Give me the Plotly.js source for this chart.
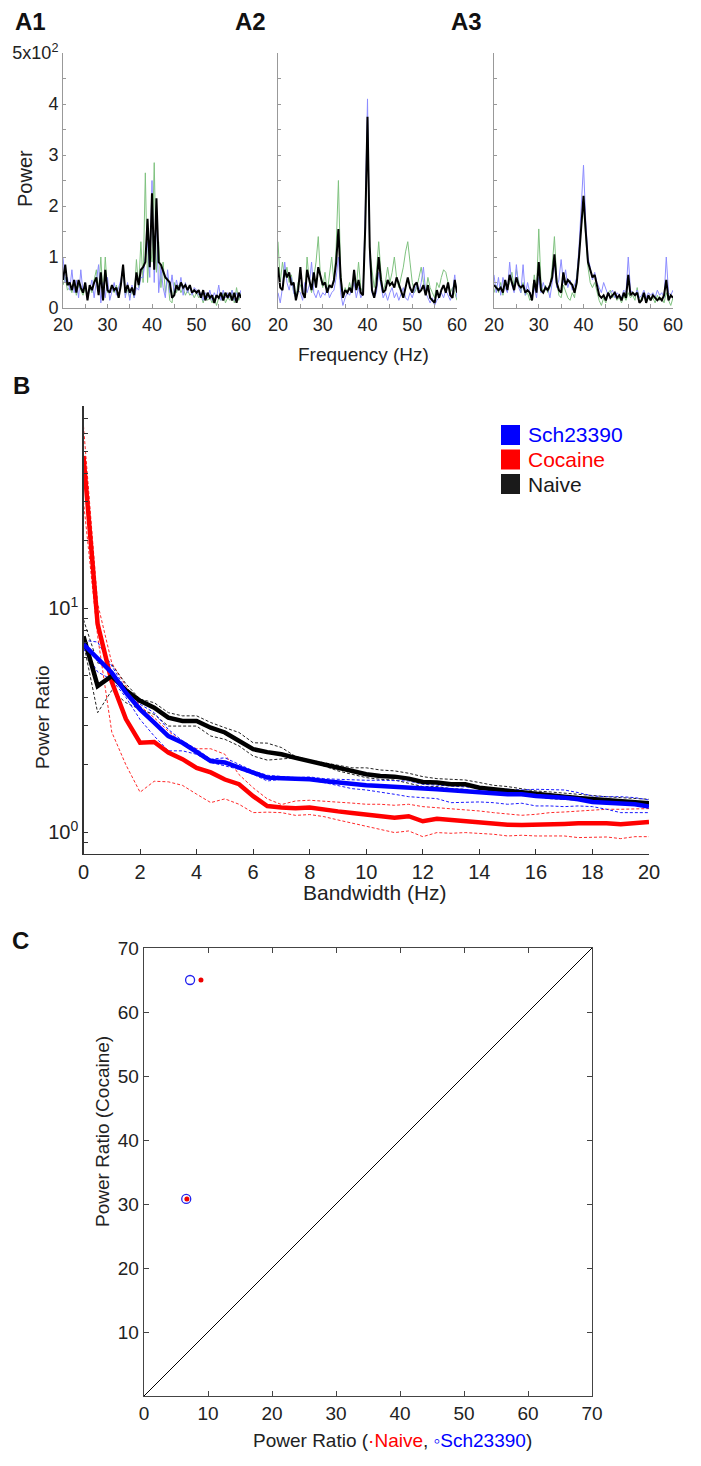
<!DOCTYPE html>
<html>
<head>
<meta charset="utf-8">
<script src="https://cdn.plot.ly/plotly-3.0.1.min.js"></script>
<style>html,body{margin:0;padding:0;background:#fff;}#chart{width:701px;height:1466px;}</style>
</head>
<body>
<div id="chart"></div>
<script>
// ---------- Panel A: power spectra (units of 100) ----------
var freqA = [20,20.5,21,21.5,22,22.5,23,23.5,24,24.5,25,25.5,26,26.5,27,27.5,28,28.5,29,29.5,30,30.5,31,31.5,32,32.5,33,33.5,34,34.5,35,35.5,36,36.5,37,37.5,38,38.5,39,39.5,40,40.5,41,41.5,42,42.5,43,43.5,44,44.5,45,45.5,46,46.5,47,47.5,48,48.5,49,49.5,50,50.5,51,51.5,52,52.5,53,53.5,54,54.5,55,55.5,56,56.5,57,57.5,58,58.5,59,59.5,60];

var a1Black = [0.55,0.85,0.45,0.5,0.35,0.55,0.3,0.55,0.4,0.3,0.5,0.15,0.45,0.35,0.5,0.6,0.25,0.7,0.15,0.75,0.35,0.3,0.45,0.35,0.4,0.2,0.45,0.85,0.3,0.45,0.3,0.4,0.25,0.7,0.45,0.75,0.8,0.9,1.75,0.8,2.25,0.75,2.15,0.9,0.85,0.7,0.6,0.55,0.5,0.2,0.25,0.45,0.35,0.5,0.4,0.45,0.35,0.45,0.3,0.35,0.3,0.35,0.2,0.35,0.15,0.3,0.2,0.25,0.1,0.25,0.2,0.3,0.15,0.3,0.2,0.3,0.15,0.3,0.1,0.3,0.2];
var a1Green = [0.45,0.6,0.35,0.4,0.3,0.5,0.25,0.45,0.35,0.25,0.4,0.2,0.4,0.3,0.55,0.75,0.3,1.0,0.2,1.0,0.3,0.35,0.4,0.3,0.45,0.2,0.5,0.8,0.25,0.35,0.2,0.35,0.2,0.95,0.4,1.3,0.5,2.65,0.5,1.3,0.9,2.85,0.7,1.3,0.4,0.9,0.3,0.6,0.15,0.1,0.5,0.3,0.45,0.3,0.4,0.25,0.35,0.25,0.3,0.2,0.3,0.2,0.25,0.1,0.25,0.15,0.2,0.1,0.2,0.05,0.2,0.15,0.3,0.1,0.2,0.15,0.35,0.1,0.4,0.15,0.3];
var a1Blue = [1.0,0.5,0.6,0.35,0.75,0.3,0.55,0.2,0.75,0.3,0.5,0.2,0.35,0.55,0.2,0.5,0.85,0.1,0.5,0.2,0.6,0.15,0.35,0.5,0.25,0.4,0.55,0.8,0.2,0.5,0.15,0.45,0.2,0.4,0.35,0.6,0.6,1.0,1.3,0.6,2.5,0.5,1.9,0.3,0.8,0.4,0.2,0.75,0.3,0.65,0.3,0.55,0.35,0.6,0.25,0.5,0.3,0.45,0.25,0.4,0.35,0.25,0.3,0.15,0.3,0.2,0.35,0.15,0.3,0.2,0.45,0.15,0.35,0.2,0.3,0.2,0.35,0.15,0.3,0.2,0.35];

var a2Black = [0.8,0.4,0.35,0.75,0.6,0.7,0.45,0.5,0.15,0.35,0.8,0.3,0.2,0.75,0.55,0.35,0.7,0.4,0.8,0.6,0.45,0.5,0.3,0.45,0.4,0.55,0.9,1.55,0.6,0.2,0.35,0.3,0.4,0.3,0.75,0.35,0.55,0.3,0.25,1.6,3.75,1.2,0.35,0.2,0.45,1.0,0.55,0.3,0.35,0.55,0.45,0.5,0.4,0.6,0.45,0.35,0.2,0.4,0.6,0.4,0.3,0.45,0.5,0.3,0.35,0.45,0.25,0.45,0.2,0.15,0.1,0.35,0.2,0.35,0.45,0.3,0.5,0.25,0.2,0.55,0.3];
var a2Green = [1.3,0.5,0.9,0.6,0.8,0.5,0.65,0.3,0.2,0.5,0.45,0.3,0.2,1.0,0.5,0.3,0.6,0.9,1.4,0.6,0.4,0.7,0.3,0.6,1.0,0.5,1.2,2.5,0.7,0.2,0.4,0.3,0.5,0.3,0.6,0.4,0.9,0.4,0.3,1.5,3.7,1.1,0.8,0.4,0.7,1.3,0.7,0.3,0.5,0.8,0.5,0.7,1.0,0.6,0.4,0.6,0.8,1.1,1.3,0.9,0.5,0.3,0.4,0.6,0.8,0.5,0.3,0.6,0.4,0.3,0.2,0.5,0.4,0.6,0.75,0.7,0.5,0.3,0.4,0.3,0.15];
var a2Blue = [0.3,0.1,0.4,0.9,0.5,0.35,0.6,0.3,0.2,0.35,0.3,0.15,0.5,0.3,0.45,0.9,0.3,0.2,0.35,0.2,0.3,0.25,0.4,0.2,0.3,0.35,0.6,1.0,0.3,0.05,0.2,0.3,0.25,0.4,0.5,0.2,0.4,0.2,0.3,1.9,4.1,1.0,0.3,0.2,0.3,0.7,0.4,0.2,0.3,0.15,0.3,0.4,0.2,0.3,0.15,0.3,0.4,0.2,0.15,0.3,0.2,0.35,0.45,0.3,0.5,0.8,0.3,0.2,0.1,0.2,0.05,0.15,0.2,0.3,0.2,0.35,0.25,0.15,0.3,0.65,0.2];

var a3Black = [0.45,0.4,0.35,0.4,0.3,0.55,0.35,0.65,0.5,0.35,0.6,0.45,0.4,0.45,0.3,0.35,0.3,0.15,0.55,0.3,0.9,0.35,0.3,0.4,0.35,0.45,0.6,1.05,0.5,0.35,0.3,0.7,0.45,0.55,0.5,0.45,0.3,0.5,1.0,1.7,2.2,1.5,0.9,0.75,0.6,0.65,0.45,0.25,0.2,0.25,0.15,0.3,0.2,0.25,0.3,0.2,0.25,0.15,0.3,0.2,0.65,0.25,0.3,0.25,0.3,0.1,0.15,0.3,0.1,0.25,0.15,0.25,0.2,0.15,0.2,0.15,0.25,0.55,0.15,0.25,0.2];
var a3Green = [0.3,0.45,0.3,0.5,0.25,0.55,0.4,0.5,0.7,0.4,0.75,0.5,0.3,0.5,0.25,0.3,0.15,0.2,0.65,0.3,1.55,0.5,0.3,0.45,0.3,0.4,0.8,1.4,0.6,0.25,0.2,0.45,0.3,0.2,0.15,0.3,0.2,0.6,1.1,1.6,2.0,1.4,0.8,0.5,0.4,0.5,0.3,0.15,0.05,0.2,0.1,0.3,0.35,0.2,0.25,0.15,0.2,0.1,0.25,0.15,0.3,0.2,0.25,0.15,0.4,0.1,0.2,0.3,0.1,0.2,0.15,0.2,0.1,0.25,0.15,0.2,0.1,0.3,0.15,0.05,0.2];
var a3Blue = [0.65,0.3,0.6,0.25,0.6,0.4,0.3,0.9,0.45,0.3,0.85,0.4,0.3,0.85,0.25,0.5,0.3,0.2,0.4,0.2,0.6,0.3,0.5,0.35,0.4,0.2,0.5,0.9,0.4,0.55,0.95,0.5,0.75,0.4,0.55,0.35,0.45,0.6,1.2,2.0,2.8,1.7,1.0,0.8,0.55,0.7,0.5,0.4,0.3,0.5,0.35,0.25,0.3,0.35,0.2,0.3,0.25,0.2,0.35,0.3,1.0,0.35,0.3,0.25,0.35,0.2,0.25,0.35,0.2,0.3,0.25,0.3,0.2,0.35,0.25,0.3,0.2,1.0,0.3,0.25,0.35];

var aYTickVals = [0,0.5,1,1.5,2,2.5,3,3.5,4,4.5,5];
var aYTickText = ['0','','1','','2','','3','','4','','5x10<sup>2</sup>'];
var aXTickVals = [20,25,30,35,40,45,50,55,60];
var aXTickText = ['20','','30','','40','','50','','60'];

// ---------- Panel B: power ratio vs bandwidth ----------
var bandwidth = [0,0.5,1,1.5,2,2.5,3,3.5,4,4.5,5,5.5,6,6.5,7,7.5,8,8.5,9,9.5,10,10.5,11,11.5,12,12.5,13,13.5,14,14.5,15,15.5,16,16.5,17,17.5,18,18.5,19,19.5,20];

var cocMean = [47.9,8.5,4.7,3.2,2.51,2.53,2.27,2.12,1.94,1.85,1.72,1.64,1.45,1.31,1.29,1.28,1.29,1.26,1.24,1.22,1.20,1.18,1.16,1.18,1.12,1.15,1.135,1.123,1.112,1.097,1.082,1.078,1.078,1.086,1.09,1.097,1.10,1.097,1.086,1.10,1.112];
var cocUp = [65,10.5,5.7,4.5,3.66,3.25,2.83,2.51,2.36,2.36,2.23,1.81,1.58,1.41,1.33,1.38,1.39,1.38,1.36,1.35,1.334,1.334,1.32,1.334,1.302,1.289,1.276,1.267,1.245,1.224,1.203,1.191,1.203,1.224,1.232,1.245,1.255,1.267,1.267,1.276,1.276];
var cocLo = [30,7.5,2.8,2.0,1.51,1.69,1.68,1.62,1.48,1.357,1.41,1.334,1.224,1.23,1.224,1.19,1.20,1.175,1.135,1.097,1.067,1.031,0.997,1.014,0.956,0.997,0.99,0.997,0.99,0.98,0.963,0.97,0.963,0.963,0.963,0.947,0.947,0.953,0.937,0.956,0.956];

var naiMean = [7.5,4.5,4.99,4.3,3.86,3.60,3.25,3.14,3.14,2.93,2.79,2.56,2.35,2.28,2.23,2.15,2.08,2.01,1.94,1.88,1.815,1.784,1.772,1.736,1.678,1.668,1.638,1.638,1.582,1.556,1.529,1.504,1.478,1.452,1.442,1.422,1.404,1.394,1.38,1.366,1.348];
var naiUp = [8.9,5.7,5.6,4.6,3.93,3.79,3.42,3.31,3.31,3.09,2.93,2.79,2.51,2.50,2.39,2.18,2.10,2.05,1.99,1.94,1.94,1.897,1.88,1.835,1.772,1.736,1.724,1.712,1.668,1.621,1.60,1.566,1.529,1.514,1.493,1.474,1.452,1.442,1.428,1.413,1.404];
var naiLo = [7.0,3.42,4.3,3.79,3.54,3.36,2.98,2.98,2.98,2.69,2.60,2.43,2.19,2.10,2.12,2.15,2.08,1.98,1.88,1.815,1.754,1.724,1.712,1.655,1.60,1.60,1.566,1.556,1.504,1.493,1.478,1.463,1.442,1.413,1.404,1.394,1.38,1.356,1.348,1.334,1.32];

var schMean = [6.9,6.0,5.16,4.2,3.54,3.09,2.69,2.51,2.27,2.08,2.05,1.94,1.847,1.754,1.743,1.736,1.724,1.695,1.668,1.638,1.621,1.61,1.60,1.582,1.566,1.556,1.54,1.529,1.504,1.493,1.478,1.478,1.452,1.442,1.428,1.404,1.366,1.356,1.348,1.334,1.302];
var schUp = [7.2,7.07,5.53,4.35,3.73,3.42,2.88,2.56,2.35,2.12,2.15,2.01,1.88,1.797,1.772,1.754,1.766,1.736,1.724,1.712,1.707,1.707,1.695,1.695,1.638,1.621,1.61,1.60,1.582,1.566,1.556,1.545,1.556,1.556,1.545,1.504,1.452,1.442,1.442,1.428,1.394];
var schLo = [6.6,5.2,4.8,4.0,3.19,2.69,2.31,2.31,2.23,2.05,1.98,1.91,1.815,1.695,1.724,1.724,1.712,1.668,1.621,1.566,1.545,1.514,1.478,1.442,1.428,1.413,1.356,1.366,1.366,1.356,1.334,1.348,1.311,1.311,1.302,1.311,1.302,1.267,1.224,1.224,1.224];

var bYTickVals = [0.9,1,2,3,4,5,6,7,8,9,10,20,30,40,50,60,70,80];
var bYTickText = ['','10<sup>0</sup>','','','','','','','','','10<sup>1</sup>','','','','','','',''];
var bXTickVals = [0,2,4,6,8,10,12,14,16,18,20];

var legendNames = ['Sch23390','Cocaine','Naive'];
var legendColors = ['#0000ff','#ff0000','#1a1a1a'];

// ---------- Panel C: scatter ----------
var naiveX = [8.9, 6.7];
var schX = [7.2, 6.6];
var cocaineY = [65, 30.8];
var unityLine = [0, 70];

// ---------- helpers ----------
var W = 701, H = 1466;
function px(x){ return x / W; }
function py(y){ return 1 - y / H; }
var ARIAL = "'Liberation Sans', Arial, sans-serif";
var NARROW = "'Liberation Sans Narrow', 'Arial Narrow', 'Liberation Sans', Arial, sans-serif";

var traces = [];
function aTraces(xa, ya, g, b, k) {
  traces.push({x: freqA, y: g, xaxis: xa, yaxis: ya, mode: 'lines', line: {color: '#7fc27f', width: 1}, hoverinfo: 'skip', showlegend: false});
  traces.push({x: freqA, y: b, xaxis: xa, yaxis: ya, mode: 'lines', line: {color: '#8c8cff', width: 1}, hoverinfo: 'skip', showlegend: false});
  traces.push({x: freqA, y: k, xaxis: xa, yaxis: ya, mode: 'lines', line: {color: '#000000', width: 2}, hoverinfo: 'skip', showlegend: false});
}
aTraces('x', 'y', a1Green, a1Blue, a1Black);
aTraces('x2', 'y2', a2Green, a2Blue, a2Black);
aTraces('x3', 'y3', a3Green, a3Blue, a3Black);

function bLine(yv, color, width, dash, name) {
  traces.push({x: bandwidth, y: yv, xaxis: 'x4', yaxis: 'y4', mode: 'lines', name: name,
    line: {color: color, width: width, dash: dash}, showlegend: false});
}
bLine(cocUp, '#ff2a2a', 1, '3px,2px', 'Cocaine +');
bLine(cocLo, '#ff2a2a', 1, '3px,2px', 'Cocaine -');
bLine(naiUp, '#222222', 1, '3px,2px', 'Naive +');
bLine(naiLo, '#222222', 1, '3px,2px', 'Naive -');
bLine(schUp, '#1a1aff', 1, '3px,2px', 'Sch23390 +');
bLine(schLo, '#1a1aff', 1, '3px,2px', 'Sch23390 -');
bLine(cocMean, '#ff0000', 4.5, 'solid', 'Cocaine');
bLine(naiMean, '#000000', 4.5, 'solid', 'Naive');
bLine(schMean, '#0000ff', 4.5, 'solid', 'Sch23390');

traces.push({x: unityLine, y: unityLine, xaxis: 'x5', yaxis: 'y5', mode: 'lines', line: {color: '#000', width: 1}, showlegend: false, hoverinfo: 'skip'});
traces.push({x: schX, y: cocaineY, xaxis: 'x5', yaxis: 'y5', mode: 'markers', name: 'Sch23390',
  marker: {symbol: 'circle-open', size: 9, color: '#2222ee', line: {width: 1.3, color: '#2222ee'}}, showlegend: false});
traces.push({x: naiveX, y: cocaineY, xaxis: 'x5', yaxis: 'y5', mode: 'markers', name: 'Naive',
  marker: {symbol: 'circle', size: 5, color: '#ee0000'}, showlegend: false});

function aX(domain, anchor) {
  return {domain: domain, anchor: anchor, range: [20, 60], tickmode: 'array', tickvals: aXTickVals, ticktext: aXTickText,
    ticks: 'inside', ticklen: 4, tickcolor: '#999', showline: true, linecolor: '#999', linewidth: 1,
    showgrid: false, zeroline: false, tickfont: {family: ARIAL, size: 18, color: '#222'}, fixedrange: true};
}
function aY(domain, anchor, labels) {
  return {domain: domain, anchor: anchor, range: [0, 5], tickmode: 'array', tickvals: aYTickVals, ticktext: aYTickText,
    showticklabels: labels, ticks: 'inside', ticklen: 3, tickcolor: '#999', showline: true, linecolor: '#999', linewidth: 1,
    showgrid: false, zeroline: false, tickfont: {family: ARIAL, size: 18, color: '#222'}, fixedrange: true};
}
var aYdom = [py(308), py(53)];

var layout = {
  width: W, height: H, margin: {l: 0, r: 0, t: 0, b: 0}, paper_bgcolor: '#fff', plot_bgcolor: 'rgba(0,0,0,0)',
  showlegend: false, font: {family: ARIAL, color: '#222'},
  xaxis: aX([px(63), px(241)], 'y'),
  yaxis: aY(aYdom, 'x', true),
  xaxis2: aX([px(278), px(457)], 'y2'),
  yaxis2: aY(aYdom, 'x2', false),
  xaxis3: aX([px(494), px(673)], 'y3'),
  yaxis3: aY(aYdom, 'x3', false),
  xaxis4: {domain: [px(83.5), px(649)], anchor: 'y4', range: [0, 20], tickmode: 'array', tickvals: bXTickVals,
    ticks: 'inside', ticklen: 5, tickcolor: '#333', showline: true, linecolor: '#333', linewidth: 1.3,
    showgrid: false, zeroline: false, tickfont: {family: NARROW, size: 20, color: '#222'}},
  yaxis4: {domain: [py(854), py(406)], anchor: 'x4', type: 'log', range: [Math.log10(0.8), Math.log10(80)],
    tickmode: 'array', tickvals: bYTickVals, ticktext: bYTickText, ticks: 'inside', ticklen: 4, tickcolor: '#333',
    showline: true, linecolor: '#333', linewidth: 1.3, showgrid: false, zeroline: false,
    tickfont: {family: ARIAL, size: 20, color: '#222'}},
  xaxis5: {domain: [px(144), px(592)], anchor: 'y5', range: [0, 70], tickmode: 'array', tickvals: [0,10,20,30,40,50,60,70],
    ticks: 'inside', ticklen: 5, tickcolor: '#444', showline: true, mirror: 'ticks', linecolor: '#444', linewidth: 1.3,
    showgrid: false, zeroline: false, tickfont: {family: ARIAL, size: 19, color: '#222'}},
  yaxis5: {domain: [py(1396), py(948)], anchor: 'x5', range: [0, 70], tickmode: 'array', tickvals: [10,20,30,40,50,60,70],
    ticks: 'inside', ticklen: 5, tickcolor: '#444', showline: true, mirror: 'ticks', linecolor: '#444', linewidth: 1.3,
    showgrid: false, zeroline: false, tickfont: {family: ARIAL, size: 19, color: '#222'}},
  annotations: [],
  shapes: []
};

function ann(text, x, y, opts) {
  var a = {text: text, x: px(x), y: py(y), xref: 'paper', yref: 'paper', showarrow: false,
    xanchor: 'center', yanchor: 'middle', font: {family: ARIAL, size: 19, color: '#222'}};
  for (var k in opts) a[k] = opts[k];
  layout.annotations.push(a);
}
// panel labels
ann('<b>A1</b>', 30, 22, {font: {family: ARIAL, size: 24, color: '#111'}});
ann('<b>A2</b>', 250, 22, {font: {family: ARIAL, size: 24, color: '#111'}});
ann('<b>A3</b>', 466, 22, {font: {family: ARIAL, size: 24, color: '#111'}});
ann('<b>B</b>', 21, 386, {font: {family: ARIAL, size: 24, color: '#111'}});
ann('<b>C</b>', 20, 940, {font: {family: ARIAL, size: 24, color: '#111'}});
// axis titles
ann('Power', 25, 179, {textangle: -90, font: {family: ARIAL, size: 20, color: '#222'}});
ann('Frequency (Hz)', 363, 355, {font: {family: ARIAL, size: 19, color: '#222'}});
ann('Power Ratio', 43, 717, {textangle: -90, font: {family: ARIAL, size: 19, color: '#222'}});
ann('Bandwidth (Hz)', 375, 892, {font: {family: NARROW, size: 21, color: '#222'}});
ann('Power Ratio (Cocaine)', 102, 1132, {textangle: -90, font: {family: ARIAL, size: 19, color: '#222'}});
ann('Power Ratio (<span style="color:#ff0000">\u00b7Naive</span>, <span style="color:#0000ff">\u25e6Sch23390</span>)', 392, 1440,
    {font: {family: ARIAL, size: 19, color: '#222'}});
// legend for B
for (var li = 0; li < legendNames.length; li++) {
  var rowTop = 425 + li * 24.5;
  layout.shapes.push({type: 'rect', xref: 'paper', yref: 'paper', x0: px(501), x1: px(520), y0: py(rowTop + 20), y1: py(rowTop),
    fillcolor: legendColors[li], line: {width: 0}});
  ann(legendNames[li], 526, rowTop + 10, {xanchor: 'left', font: {family: ARIAL, size: 21, color: legendColors[li]}});
}

Plotly.newPlot('chart', traces, layout, {staticPlot: true});
</script>
</body>
</html>
